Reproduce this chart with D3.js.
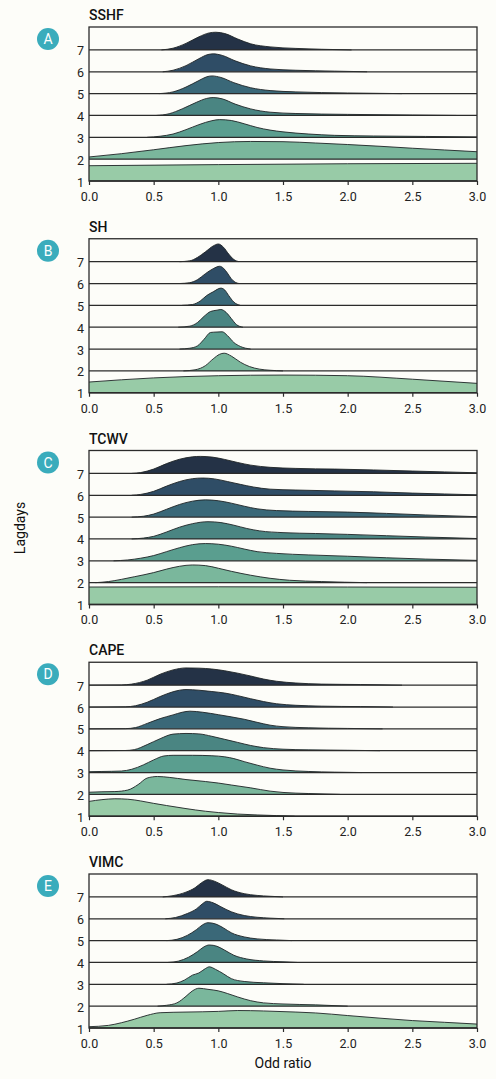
<!DOCTYPE html>
<html>
<head>
<meta charset="utf-8">
<script src="https://cdn.jsdelivr.net/npm/d3@7"></script>
<style>
    html, body { margin: 0; padding: 0; background: #fdfdf9; }
    svg { display: block; font-family: Roboto, "Noto Sans", sans-serif; }
</style>
</head>
<body>
<svg id="chart" width="496" height="1079"></svg>
<script>
// Data
const variables = ['SSHF', 'SH', 'TCWV', 'CAPE', 'VIMC'];
const panelLetters = ['A', 'B', 'C', 'D', 'E'];
const lagdays = [1, 2, 3, 4, 5, 6, 7];
const xTicks = [0, 0.5, 1.0, 1.5, 2.0, 2.5, 3.0];
const rowColors = ['#98cba7', '#7ab79c', '#5a9e8f', '#4a8582', '#3a6878', '#2f4d66', '#243246'];

// ridge profiles per lag day (index 0 = lag 1): [odd ratio, height in row units]
const sshf = [
    [[0, 0.70], [1.0, 0.75], [2.0, 0.79], [3.0, 0.81]],
    [[0, 0.10], [0.25, 0.25], [0.5, 0.43], [0.75, 0.62], [1.0, 0.76], [1.25, 0.81], [1.5, 0.80], [1.75, 0.74], [2.0, 0.67], [2.25, 0.59], [2.5, 0.50], [2.75, 0.42], [3.0, 0.34]],
    [[0.45, 0], [0.55, 0.05], [0.65, 0.15], [0.75, 0.35], [0.85, 0.58], [0.95, 0.76], [1.01, 0.81], [1.1, 0.77], [1.2, 0.62], [1.3, 0.45], [1.4, 0.33], [1.5, 0.25], [1.7, 0.15], [1.9, 0.09], [2.2, 0.06], [2.6, 0.04], [3.0, 0.02]],
    [[0.52, 0], [0.62, 0.08], [0.72, 0.30], [0.83, 0.60], [0.91, 0.78], [0.96, 0.82], [1.03, 0.76], [1.13, 0.52], [1.25, 0.30], [1.4, 0.15], [1.6, 0.09], [2.0, 0.05], [2.5, 0.02], [2.84, 0]],
    [[0.54, 0], [0.65, 0.08], [0.75, 0.30], [0.85, 0.60], [0.91, 0.77], [0.95, 0.81], [1.02, 0.74], [1.12, 0.50], [1.25, 0.27], [1.4, 0.14], [1.6, 0.08], [2.0, 0.03], [2.42, 0]],
    [[0.57, 0], [0.65, 0.07], [0.75, 0.28], [0.85, 0.60], [0.92, 0.79], [0.96, 0.82], [1.03, 0.75], [1.13, 0.50], [1.25, 0.27], [1.4, 0.13], [1.6, 0.07], [1.9, 0.03], [2.15, 0]],
    [[0.56, 0], [0.65, 0.08], [0.75, 0.30], [0.85, 0.60], [0.93, 0.78], [0.98, 0.81], [1.05, 0.75], [1.15, 0.50], [1.25, 0.28], [1.4, 0.14], [1.6, 0.07], [1.8, 0.03], [2.03, 0]]
];
const sh = [
    [[0, 0.49], [0.5, 0.68], [1.0, 0.78], [1.5, 0.81], [2.0, 0.78], [2.5, 0.62], [3.0, 0.43]],
    [[0.73, 0], [0.82, 0.05], [0.9, 0.24], [0.96, 0.55], [1.01, 0.76], [1.045, 0.81], [1.1, 0.68], [1.17, 0.40], [1.24, 0.20], [1.32, 0.08], [1.4, 0.03], [1.5, 0]],
    [[0.70, 0], [0.78, 0.04], [0.84, 0.15], [0.89, 0.45], [0.94, 0.76], [0.99, 0.78], [1.03, 0.79], [1.07, 0.62], [1.12, 0.30], [1.17, 0.12], [1.25, 0]],
    [[0.69, 0], [0.78, 0.05], [0.84, 0.22], [0.89, 0.50], [0.94, 0.72], [0.99, 0.78], [1.02, 0.81], [1.06, 0.68], [1.1, 0.40], [1.14, 0.12], [1.19, 0]],
    [[0.72, 0], [0.8, 0.04], [0.86, 0.20], [0.91, 0.45], [0.96, 0.62], [1.02, 0.79], [1.05, 0.70], [1.08, 0.45], [1.12, 0.15], [1.17, 0]],
    [[0.70, 0], [0.78, 0.04], [0.84, 0.18], [0.9, 0.45], [0.96, 0.68], [1.01, 0.79], [1.04, 0.70], [1.07, 0.48], [1.1, 0.22], [1.13, 0.06], [1.16, 0]],
    [[0.70, 0], [0.78, 0.04], [0.84, 0.20], [0.9, 0.45], [0.96, 0.72], [1.0, 0.81], [1.04, 0.66], [1.08, 0.35], [1.12, 0.10], [1.16, 0]]
];
const tcwv = [
    [[0, 0.80], [1.0, 0.81], [2.0, 0.80], [3.0, 0.79]],
    [[0.05, 0], [0.15, 0.05], [0.25, 0.15], [0.35, 0.27], [0.5, 0.46], [0.6, 0.62], [0.7, 0.75], [0.8, 0.81], [0.9, 0.78], [1.0, 0.66], [1.1, 0.52], [1.25, 0.34], [1.4, 0.20], [1.55, 0.11], [1.8, 0.05], [2.15, 0]],
    [[0.19, 0], [0.3, 0.04], [0.4, 0.12], [0.5, 0.24], [0.6, 0.42], [0.7, 0.60], [0.8, 0.74], [0.9, 0.79], [1.0, 0.76], [1.1, 0.67], [1.2, 0.54], [1.3, 0.42], [1.45, 0.34], [1.7, 0.27], [2.0, 0.21], [2.3, 0.14], [2.6, 0.08], [3.0, 0.02]],
    [[0.33, 0], [0.42, 0.04], [0.5, 0.12], [0.6, 0.32], [0.7, 0.54], [0.8, 0.70], [0.92, 0.79], [1.02, 0.75], [1.12, 0.63], [1.22, 0.48], [1.32, 0.37], [1.5, 0.29], [1.75, 0.25], [2.0, 0.21], [2.3, 0.15], [2.6, 0.09], [3.0, 0.02]],
    [[0.33, 0], [0.42, 0.04], [0.5, 0.14], [0.6, 0.36], [0.7, 0.58], [0.8, 0.73], [0.9, 0.79], [1.0, 0.75], [1.1, 0.64], [1.2, 0.50], [1.3, 0.38], [1.45, 0.30], [1.7, 0.26], [2.0, 0.23], [2.3, 0.17], [2.6, 0.10], [3.0, 0.02]],
    [[0.33, 0], [0.4, 0.04], [0.5, 0.18], [0.6, 0.42], [0.7, 0.63], [0.8, 0.76], [0.88, 0.79], [0.97, 0.75], [1.07, 0.63], [1.17, 0.50], [1.27, 0.38], [1.4, 0.28], [1.6, 0.24], [1.9, 0.20], [2.2, 0.16], [2.5, 0.10], [2.75, 0.06], [3.0, 0.02]],
    [[0.33, 0], [0.4, 0.04], [0.5, 0.20], [0.6, 0.45], [0.7, 0.65], [0.8, 0.76], [0.86, 0.78], [0.95, 0.75], [1.05, 0.64], [1.15, 0.50], [1.25, 0.38], [1.4, 0.28], [1.6, 0.23], [1.9, 0.20], [2.2, 0.16], [2.5, 0.11], [2.75, 0.07], [3.0, 0.03]]
];
const cape = [
    [[0, 0.68], [0.1, 0.76], [0.2, 0.80], [0.3, 0.78], [0.4, 0.70], [0.5, 0.59], [0.6, 0.49], [0.75, 0.35], [0.9, 0.23], [1.0, 0.17], [1.15, 0.10], [1.3, 0.06], [1.45, 0.03], [1.59, 0]],
    [[0, 0.10], [0.1, 0.12], [0.2, 0.13], [0.3, 0.20], [0.38, 0.45], [0.45, 0.75], [0.53, 0.82], [0.62, 0.78], [0.75, 0.68], [0.9, 0.59], [1.0, 0.52], [1.1, 0.43], [1.25, 0.30], [1.4, 0.15], [1.5, 0.09], [1.7, 0.04], [1.94, 0]],
    [[0, 0.04], [0.1, 0.05], [0.25, 0.07], [0.33, 0.15], [0.42, 0.35], [0.5, 0.58], [0.58, 0.76], [0.65, 0.79], [0.8, 0.79], [0.95, 0.77], [1.05, 0.72], [1.12, 0.64], [1.2, 0.50], [1.3, 0.34], [1.4, 0.20], [1.5, 0.12], [1.7, 0.05], [1.9, 0.02], [2.11, 0]],
    [[0, 0], [0.28, 0.01], [0.35, 0.05], [0.45, 0.28], [0.55, 0.55], [0.65, 0.76], [0.75, 0.79], [0.85, 0.77], [0.95, 0.66], [1.05, 0.52], [1.15, 0.38], [1.25, 0.24], [1.35, 0.14], [1.5, 0.07], [1.7, 0.04], [2.0, 0.02], [2.25, 0]],
    [[0, 0], [0.28, 0.01], [0.36, 0.06], [0.45, 0.25], [0.55, 0.47], [0.65, 0.64], [0.72, 0.76], [0.78, 0.81], [0.88, 0.76], [1.0, 0.65], [1.1, 0.55], [1.2, 0.44], [1.3, 0.30], [1.4, 0.17], [1.5, 0.10], [1.7, 0.05], [2.0, 0.02], [2.27, 0]],
    [[0, 0], [0.28, 0.01], [0.36, 0.06], [0.45, 0.22], [0.55, 0.48], [0.65, 0.70], [0.75, 0.80], [0.85, 0.77], [0.95, 0.71], [1.05, 0.64], [1.15, 0.52], [1.25, 0.38], [1.35, 0.25], [1.45, 0.15], [1.6, 0.08], [1.8, 0.04], [2.1, 0.02], [2.35, 0]],
    [[0, 0], [0.25, 0.01], [0.33, 0.05], [0.45, 0.23], [0.55, 0.50], [0.65, 0.70], [0.75, 0.79], [0.85, 0.78], [0.95, 0.74], [1.05, 0.66], [1.15, 0.55], [1.25, 0.42], [1.35, 0.28], [1.45, 0.18], [1.6, 0.10], [1.8, 0.05], [2.1, 0.03], [2.42, 0]]
];
const vimc = [
    [[0, 0.06], [0.15, 0.12], [0.25, 0.24], [0.35, 0.40], [0.45, 0.58], [0.55, 0.70], [0.75, 0.73], [1.0, 0.76], [1.15, 0.80], [1.35, 0.78], [1.6, 0.73], [1.75, 0.69], [2.0, 0.57], [2.25, 0.45], [2.5, 0.34], [2.75, 0.26], [3.0, 0.18]],
    [[0.53, 0], [0.6, 0.04], [0.68, 0.15], [0.75, 0.45], [0.8, 0.70], [0.85, 0.82], [0.92, 0.77], [1.0, 0.70], [1.07, 0.58], [1.15, 0.42], [1.25, 0.25], [1.35, 0.15], [1.5, 0.10], [1.75, 0.06], [2.0, 0]],
    [[0.6, 0], [0.68, 0.06], [0.74, 0.20], [0.8, 0.42], [0.85, 0.52], [0.9, 0.72], [0.93, 0.80], [0.98, 0.68], [1.04, 0.48], [1.1, 0.26], [1.2, 0.13], [1.35, 0.07], [1.5, 0.03], [1.66, 0]],
    [[0.61, 0], [0.69, 0.06], [0.77, 0.24], [0.84, 0.50], [0.89, 0.72], [0.93, 0.80], [0.99, 0.74], [1.05, 0.56], [1.12, 0.33], [1.22, 0.16], [1.35, 0.07], [1.5, 0.03], [1.61, 0]],
    [[0.6, 0], [0.68, 0.06], [0.76, 0.24], [0.83, 0.50], [0.88, 0.73], [0.92, 0.82], [0.98, 0.76], [1.04, 0.58], [1.1, 0.36], [1.2, 0.17], [1.3, 0.08], [1.45, 0.03], [1.57, 0]],
    [[0.59, 0], [0.67, 0.06], [0.76, 0.24], [0.83, 0.45], [0.88, 0.70], [0.91, 0.80], [0.96, 0.73], [1.02, 0.55], [1.1, 0.32], [1.2, 0.15], [1.3, 0.07], [1.4, 0.03], [1.51, 0]],
    [[0.57, 0], [0.65, 0.06], [0.75, 0.22], [0.82, 0.42], [0.87, 0.65], [0.92, 0.79], [0.97, 0.72], [1.03, 0.55], [1.1, 0.33], [1.2, 0.15], [1.3, 0.07], [1.4, 0.03], [1.5, 0]]
];
const ridgesByPanel = [sshf, sh, tcwv, cape, vimc];

// Layout
const LEFT = 89, RIGHT = 477;
const FIRST_TOP = 27, PANEL_STEP = 211.75, PANEL_H = 154;
const INK = '#2b2b2b';

const svg = d3.select('#chart');
const x = d3.scaleLinear().domain([0, 3]).range([LEFT, RIGHT]);

variables.forEach((name, i) => {
    let top = FIRST_TOP + i * PANEL_STEP,
        bottom = top + PANEL_H;
    let y = d3.scaleLinear().domain([1, 8.05]).range([bottom, top]);
    let g = svg.append('g').attr('class', 'panel');

    // ridges, top row first so lower rows sit on top
    lagdays.slice().reverse().forEach((lag) => {
        let pts = ridgesByPanel[i][lag - 1];
        let area = d3.area()
            .x((d) => x(d[0]))
            .y0(y(lag))
            .y1((d) => y(lag + d[1]))
            .curve(d3.curveMonotoneX);
        let line = d3.line()
            .x((d) => x(d[0]))
            .y((d) => y(lag + d[1]))
            .curve(d3.curveMonotoneX);

        g.append('path')
            .attr('d', area(pts))
            .attr('fill', rowColors[lag - 1]);
        g.append('path')
            .attr('d', line(pts))
            .attr('fill', 'none')
            .attr('stroke', '#1e2426')
            .attr('stroke-width', 0.9);
        g.append('line')
            .attr('x1', x(0)).attr('x2', x(3))
            .attr('y1', y(lag)).attr('y2', y(lag))
            .attr('stroke', INK)
            .attr('stroke-width', 1.3);
    });

    // frame
    g.append('rect')
        .attr('x', LEFT).attr('y', top)
        .attr('width', RIGHT - LEFT).attr('height', PANEL_H)
        .attr('fill', 'none')
        .attr('stroke', INK)
        .attr('stroke-width', 1.3);

    // axes
    let xAxis = g.append('g')
        .attr('transform', 'translate(0,' + bottom + ')')
        .call(d3.axisBottom(x).tickValues(xTicks).tickFormat(d3.format('.1f')).tickSize(4).tickPadding(7));
    xAxis.select('.domain').remove();
    xAxis.selectAll('line').attr('stroke', INK).attr('stroke-width', 1.2);
    xAxis.selectAll('text').attr('font-size', 12.5).attr('fill', '#222').attr('font-family', 'Roboto');

    let yAxis = g.append('g')
        .attr('transform', 'translate(' + LEFT + ',0)')
        .call(d3.axisLeft(y).tickValues(lagdays).tickFormat(d3.format('d')).tickSize(0).tickPadding(5));
    yAxis.select('.domain').remove();
    yAxis.selectAll('text').attr('font-size', 12.5).attr('fill', '#222').attr('dy', '0.4em').attr('font-family', 'Roboto');

    // title
    g.append('text')
        .attr('x', LEFT).attr('y', top - 7)
        .attr('font-size', 14)
        .attr('font-weight', 500)
        .attr('fill', '#111')
        .text(name);

    // badge
    g.append('circle')
        .attr('cx', 48).attr('cy', top + 12)
        .attr('r', 11)
        .attr('fill', '#3aacbc');
    g.append('text')
        .attr('x', 48).attr('y', top + 12)
        .attr('dy', '0.36em')
        .attr('text-anchor', 'middle')
        .attr('font-size', 14)
        .attr('fill', 'white')
        .text(panelLetters[i]);
});

// shared axis labels
svg.append('text')
    .attr('transform', 'translate(25,528) rotate(-90)')
    .attr('text-anchor', 'middle')
    .attr('font-size', 14)
    .attr('fill', '#111')
    .text('Lagdays');

svg.append('text')
    .attr('x', (LEFT + RIGHT) / 2).attr('y', 1068)
    .attr('text-anchor', 'middle')
    .attr('font-size', 14)
    .attr('fill', '#111')
    .text('Odd ratio');
</script>
</body>
</html>
